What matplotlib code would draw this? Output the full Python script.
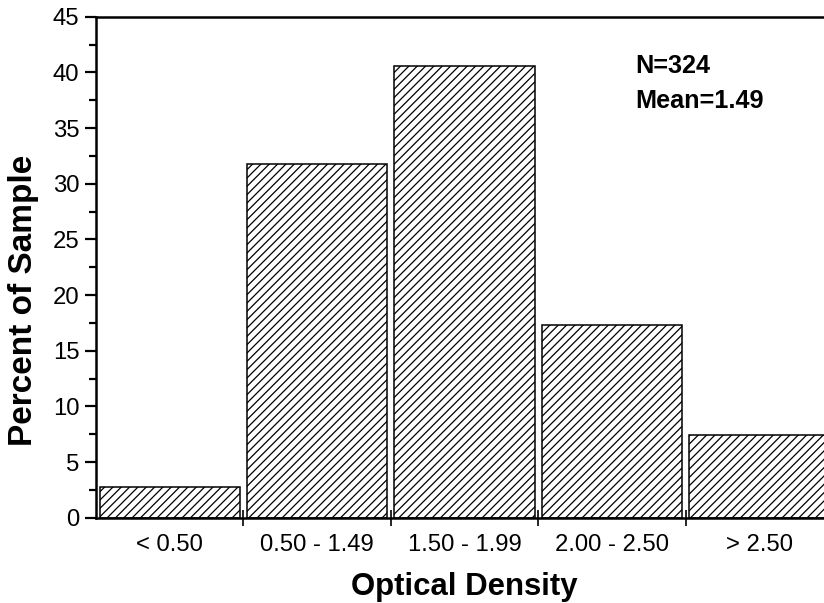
import matplotlib
matplotlib.use("Agg")
import matplotlib.pyplot as plt
from matplotlib.ticker import MultipleLocator, FixedLocator

plt.rcParams['font.family'] = ['Liberation Sans', 'DejaVu Sans']
plt.rcParams['hatch.linewidth'] = 0.9

categories = ['< 0.50', '0.50 - 1.49', '1.50 - 1.99', '2.00 - 2.50', '> 2.50']
percent = [2.8, 31.8, 40.6, 17.3, 7.4]
annot_lines = ['N=324', 'Mean=1.49']

fig = plt.figure(figsize=(8.24, 6.03), dpi=100)
ax = fig.add_axes([96 / 824, (603 - 517.7) / 603, (833 - 96) / 824, (517.7 - 16.7) / 603])

x = list(range(len(categories)))
ax.bar(x, percent, width=0.95, color='white', edgecolor='black',
       linewidth=1.1, hatch='////', zorder=2)

ax.set_xlim(-0.5, len(categories) - 0.5)
ax.set_ylim(0, 45)

ax.yaxis.set_major_locator(MultipleLocator(5))
ax.yaxis.set_minor_locator(MultipleLocator(2.5))
ax.tick_params(axis='y', which='major', direction='out', length=8, width=1.6,
               labelsize=17.2, pad=4)
ax.tick_params(axis='y', which='minor', direction='out', length=5, width=1.6)

ax.xaxis.set_major_locator(FixedLocator(x))
ax.set_xticklabels(categories)
ax.xaxis.set_minor_locator(FixedLocator([i + 0.5 for i in x[:-1]]))
ax.tick_params(axis='x', which='major', length=0, labelsize=17.2, pad=12)
ax.tick_params(axis='x', which='minor', direction='inout', length=11, width=1.2)

for s in ['left', 'bottom', 'top', 'right']:
    ax.spines[s].set_linewidth(1.8)

ax.set_xlabel('Optical Density', fontsize=22.4, fontweight='bold')
ax.xaxis.set_label_coords(0.5, (517.7 - 595) / 501)
ax.xaxis.label.set_va('baseline')
ax.set_ylabel('Percent of Sample', fontsize=24, fontweight='bold')
ax.yaxis.set_label_coords((39 - 96) / 737, (517.7 - 300) / 501)

ax.text(0.732, (517.7 - 73) / 501, annot_lines[0], transform=ax.transAxes,
        fontsize=18.2, fontweight='bold', ha='left', va='baseline')
ax.text(0.732, (517.7 - 108) / 501, annot_lines[1], transform=ax.transAxes,
        fontsize=18.2, fontweight='bold', ha='left', va='baseline')

fig.savefig('out.png', dpi=100)
